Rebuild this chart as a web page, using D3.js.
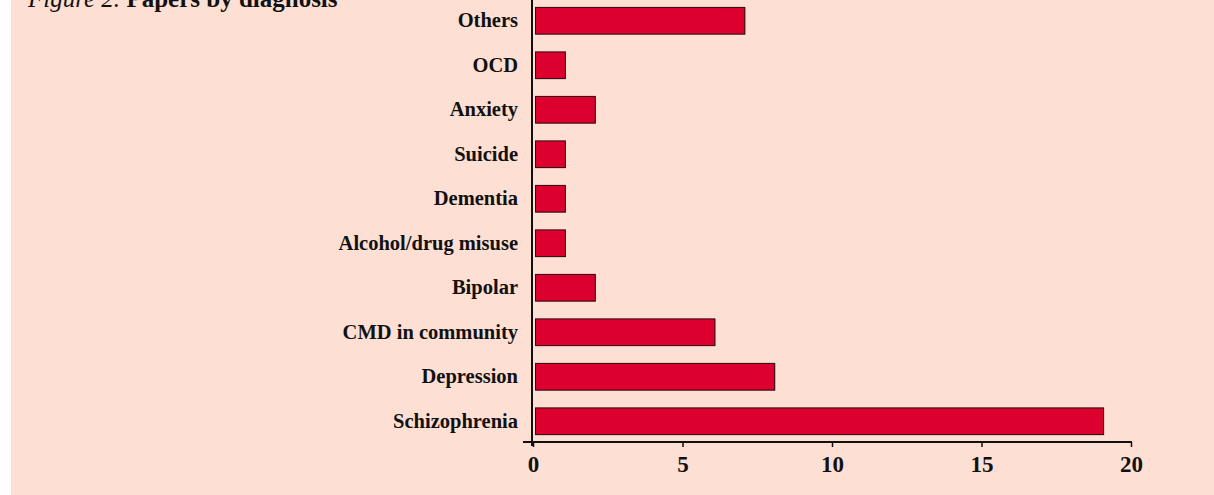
<!DOCTYPE html>
<html lang="en">
  <head>
    <meta charset="UTF-8" />
    <title>Papers by diagnosis</title>
    <style>
      body {
        margin: 0;
        overflow: hidden;
        background: #ffffff;
      }
      svg {
        display: block;
        font-family: "Liberation Serif", "Times New Roman", serif;
      }
      .label {
        font-size: 20.5px;
        font-weight: bold;
        fill: #111;
      }
    </style>
  </head>
  <body>
    <svg width="1214" height="495"></svg>

    <script src="https://d3js.org/d3.v7.min.js"></script>
    <script>
      // data (top to bottom)
      const diagnoses = [
        "Others",
        "OCD",
        "Anxiety",
        "Suicide",
        "Dementia",
        "Alcohol/drug misuse",
        "Bipolar",
        "CMD in community",
        "Depression",
        "Schizophrenia",
      ];
      const papers = [7, 1, 2, 1, 1, 1, 2, 6, 8, 19];
      const xTicks = [0, 5, 10, 15, 20];

      const svg = d3.select("svg");

      // pink panel
      svg
        .append("rect")
        .attr("x", 11)
        .attr("y", 0)
        .attr("width", 1214 - 11)
        .attr("height", 495)
        .attr("fill", "#fddfd3");

      // title (cut off at top like the original)
      const title = svg
        .append("text")
        .attr("x", 28)
        .attr("y", 7)
        .attr("font-size", 25)
        .attr("fill", "#111");
      title.append("tspan").attr("font-style", "italic").text("Figure 2. ");
      title.append("tspan").attr("font-weight", "bold").text("Papers by diagnosis");

      // scales
      const x = d3.scaleLinear().domain([0, 20]).range([533, 1131]);
      const y = d3
        .scaleBand()
        .domain(diagnoses)
        .range([-2, 443])
        .paddingInner(0.4)
        .paddingOuter(0.2);

      const rows = diagnoses.map((d, i) => ({ name: d, value: papers[i] }));

      // bars: light shadow + red bar with dark border
      svg
        .append("g")
        .selectAll("rect")
        .data(rows)
        .join("rect")
        .attr("x", x(0) + 3)
        .attr("y", (d) => y(d.name) + 1)
        .attr("width", (d) => x(d.value) - x(0))
        .attr("height", y.bandwidth())
        .attr("fill", "#b09a94");

      svg
        .append("g")
        .selectAll("rect")
        .data(rows)
        .join("rect")
        .attr("x", x(0) + 2.5)
        .attr("y", (d) => y(d.name) + 0.5)
        .attr("width", (d) => x(d.value) - x(0))
        .attr("height", y.bandwidth())
        .attr("fill", "#dc002f")
        .attr("stroke", "#2a0a0a")
        .attr("stroke-width", 1);

      // category labels
      svg
        .append("g")
        .selectAll("text")
        .data(rows)
        .join("text")
        .attr("class", "label")
        .attr("x", 518)
        .attr("y", (d) => y(d.name) + y.bandwidth() / 2)
        .attr("dy", "0.35em")
        .attr("text-anchor", "end")
        .text((d) => d.name);

      // vertical axis line
      svg
        .append("line")
        .attr("x1", 532)
        .attr("x2", 532)
        .attr("y1", 0)
        .attr("y2", 446)
        .attr("stroke", "#111")
        .attr("stroke-width", 2);

      // bottom axis
      const xAxis = d3
        .axisBottom(x)
        .tickValues(xTicks)
        .tickSize(5)
        .tickPadding(9)
        .tickFormat(d3.format("d"));

      const gx = svg
        .append("g")
        .attr("transform", "translate(0,442)")
        .call(xAxis);
      gx.select(".domain").remove();
      gx.append("line")
        .attr("x1", 523)
        .attr("x2", x(20) + 1)
        .attr("stroke", "#111")
        .attr("stroke-width", 2);
      gx.selectAll(".tick line").attr("stroke", "#111").attr("stroke-width", 1.5);
      gx.selectAll(".tick text")
        .attr("fill", "#111")
        .attr("font-family", "'Liberation Serif', 'Times New Roman', serif")
        .attr("font-size", 23)
        .attr("font-weight", "bold");
    </script>
  </body>
</html>
